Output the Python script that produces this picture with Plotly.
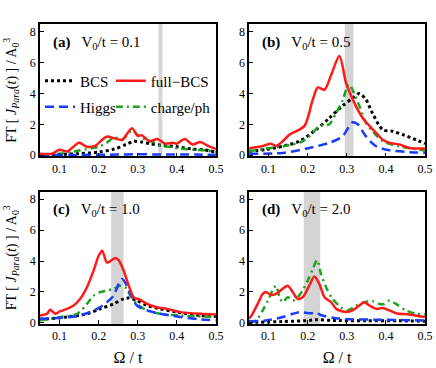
import plotly.graph_objects as go
from plotly.subplots import make_subplots

# values, per panel and series
a_bcs_x = [0.05, 0.10, 0.15, 0.20, 0.24, 0.27, 0.29, 0.31, 0.33, 0.36, 0.40, 0.44, 0.47, 0.50]
a_bcs_y = [0.05, 0.05, 0.10, 0.20, 0.40, 0.70, 0.90, 0.85, 0.75, 0.65, 0.55, 0.40, 0.35, 0.20]
a_full_x = [0.05, 0.08, 0.10, 0.12, 0.15, 0.17, 0.19, 0.22, 0.24, 0.26, 0.285, 0.30, 0.31, 0.33,
            0.35, 0.37, 0.39, 0.40, 0.42, 0.44, 0.46, 0.48, 0.50]
a_full_y = [0.10, 0.10, 0.35, 0.25, 0.80, 0.55, 0.60, 1.20, 1.10, 1.00, 1.75, 1.25, 1.30, 0.90,
            1.05, 0.75, 0.80, 0.75, 1.05, 0.70, 0.85, 0.60, 0.40]
a_higgs_x = [0.05, 0.15, 0.25, 0.30, 0.35, 0.45, 0.50]
a_higgs_y = [0.02, 0.02, 0.04, 0.06, 0.05, 0.04, 0.03]
a_charge_x = [0.05, 0.10, 0.15, 0.20, 0.22, 0.24, 0.26, 0.285, 0.30, 0.32, 0.34, 0.36, 0.38,
              0.40, 0.42, 0.45, 0.48, 0.50]
a_charge_y = [0.05, 0.10, 0.30, 0.55, 0.80, 1.15, 1.00, 1.60, 1.30, 1.00, 0.85, 0.60, 0.55,
              0.45, 0.40, 0.35, 0.30, 0.20]

b_bcs_x = [0.05, 0.093, 0.136, 0.178, 0.221, 0.255, 0.289, 0.315, 0.332, 0.349, 0.366, 0.392,
           0.417, 0.443, 0.477, 0.50]
b_bcs_y = [0.25, 0.37, 0.58, 0.90, 1.65, 2.40, 3.20, 3.70, 4.00, 3.60, 2.70, 1.65, 1.55, 1.33,
           1.00, 0.75]
b_full_x = [0.05, 0.085, 0.106, 0.119, 0.136, 0.153, 0.17, 0.192, 0.213, 0.226, 0.243, 0.26,
            0.281, 0.298, 0.307, 0.324, 0.341, 0.358, 0.375, 0.392, 0.409, 0.434, 0.46, 0.50]
b_full_y = [0.45, 0.60, 0.75, 0.60, 0.90, 1.33, 1.55, 1.90, 3.60, 4.39, 4.24, 5.20, 6.43, 4.67,
            4.10, 3.15, 2.40, 1.90, 1.45, 1.00, 0.80, 0.70, 0.47, 0.43]
b_higgs_x = [0.05, 0.136, 0.204, 0.255, 0.289, 0.306, 0.315, 0.328, 0.349, 0.375, 0.409, 0.46, 0.50]
b_higgs_y = [0.10, 0.15, 0.47, 0.80, 1.22, 1.87, 2.13, 2.00, 1.22, 0.58, 0.32, 0.20, 0.15]
b_charge_x = [0.05, 0.093, 0.136, 0.187, 0.213, 0.23, 0.255, 0.272, 0.29, 0.305, 0.332, 0.349,
              0.366, 0.392, 0.434, 0.50]
b_charge_y = [0.25, 0.43, 0.58, 0.90, 1.45, 1.90, 2.00, 2.70, 3.60, 4.60, 3.20, 2.10, 1.55,
              0.90, 0.58, 0.30]

c_bcs_x = [0.05, 0.119, 0.17, 0.204, 0.238, 0.264, 0.277, 0.298, 0.324, 0.358, 0.40, 0.46, 0.50]
c_bcs_y = [0.22, 0.37, 0.58, 0.90, 1.22, 1.55, 1.60, 1.44, 1.12, 0.90, 0.69, 0.47, 0.41]
c_full_x = [0.05, 0.068, 0.076, 0.089, 0.102, 0.119, 0.136, 0.153, 0.17, 0.187, 0.20, 0.209,
            0.221, 0.23, 0.243, 0.251, 0.264, 0.277, 0.29, 0.307, 0.324, 0.349, 0.375, 0.409,
            0.46, 0.50]
c_full_y = [0.47, 0.58, 0.84, 0.58, 0.75, 0.90, 1.12, 1.55, 2.30, 3.38, 4.34, 4.67, 3.90, 4.00,
            4.20, 4.06, 3.38, 2.40, 1.65, 1.48, 1.22, 1.00, 0.90, 0.69, 0.58, 0.54]
c_higgs_x = [0.05, 0.102, 0.153, 0.196, 0.221, 0.238, 0.251, 0.26, 0.268, 0.281, 0.298, 0.324,
             0.358, 0.409, 0.46, 0.50]
c_higgs_y = [0.26, 0.32, 0.47, 0.90, 1.33, 1.76, 2.50, 2.84, 2.60, 1.87, 1.12, 0.80, 0.58,
             0.37, 0.22, 0.15]
c_charge_x = [0.05, 0.102, 0.145, 0.17, 0.187, 0.204, 0.221, 0.238, 0.255, 0.268, 0.281, 0.298,
              0.324, 0.358, 0.409, 0.50]
c_charge_y = [0.15, 0.37, 0.58, 1.22, 1.76, 1.98, 2.09, 2.20, 2.40, 2.30, 1.76, 1.22, 0.80,
              0.58, 0.47, 0.37]

d_bcs_x = [0.05, 0.136, 0.204, 0.221, 0.264, 0.349, 0.434, 0.50]
d_bcs_y = [0.02, 0.08, 0.15, 0.20, 0.15, 0.13, 0.13, 0.10]
d_full_x = [0.05, 0.059, 0.072, 0.085, 0.093, 0.106, 0.119, 0.136, 0.149, 0.162, 0.174, 0.187,
            0.204, 0.217, 0.23, 0.243, 0.26, 0.273, 0.298, 0.315, 0.332, 0.345, 0.358, 0.375,
            0.392, 0.409, 0.426, 0.46, 0.50]
d_full_y = [0.26, 0.58, 1.22, 1.87, 2.00, 1.80, 1.87, 2.20, 2.40, 1.98, 1.55, 1.65, 2.40, 2.99,
            2.50, 1.65, 1.33, 0.90, 0.69, 0.80, 1.12, 1.33, 1.12, 0.90, 0.95, 0.80, 0.62, 0.54, 0.37]
d_higgs_x = [0.05, 0.093, 0.136, 0.162, 0.179, 0.204, 0.221, 0.238, 0.264, 0.306, 0.392, 0.50]
d_higgs_y = [0.10, 0.15, 0.37, 0.58, 0.69, 0.62, 0.62, 0.47, 0.32, 0.22, 0.20, 0.15]
d_charge_x = [0.05, 0.068, 0.085, 0.098, 0.11, 0.119, 0.128, 0.136, 0.149, 0.162, 0.174, 0.187,
              0.20, 0.213, 0.224, 0.234, 0.247, 0.264, 0.285, 0.302, 0.324, 0.345, 0.366, 0.383,
              0.396, 0.409, 0.426, 0.451, 0.477, 0.50]
d_charge_y = [0.05, 0.15, 0.80, 1.44, 2.09, 2.40, 1.65, 1.33, 1.65, 1.44, 1.65, 2.09, 2.73, 3.48,
              4.06, 3.16, 2.30, 1.55, 1.00, 0.80, 1.12, 1.33, 1.40, 1.22, 1.22, 1.44, 1.22, 0.80,
              0.58, 0.54]

panel_tags = ["(a)", "(b)", "(c)", "(d)"]
panel_v0 = ["0.1", "0.5", "1.0", "2.0"]
band_lo = [0.353, 0.295, 0.232, 0.190]
band_hi = [0.363, 0.317, 0.264, 0.232]

series_names = ["BCS", "full−BCS", "Higgs", "charge/ph"]
panels = [
    [(a_bcs_x, a_bcs_y), (a_full_x, a_full_y), (a_higgs_x, a_higgs_y), (a_charge_x, a_charge_y)],
    [(b_bcs_x, b_bcs_y), (b_full_x, b_full_y), (b_higgs_x, b_higgs_y), (b_charge_x, b_charge_y)],
    [(c_bcs_x, c_bcs_y), (c_full_x, c_full_y), (c_higgs_x, c_higgs_y), (c_charge_x, c_charge_y)],
    [(d_bcs_x, d_bcs_y), (d_full_x, d_full_y), (d_higgs_x, d_higgs_y), (d_charge_x, d_charge_y)],
]

styles = [
    dict(color="black", dash="dot", width=3),
    dict(color="#ff1a1a", dash="solid", width=2.5),
    dict(color="#1a3cff", dash="9px,5px", width=2.5),
    dict(color="#1fa31f", dash="7px,4px,2px,4px", width=2.5),
]
# one legend box per entry so the 2x2 legend grid sits where the reference has it
legend_ids = ["legend", "legend2", "legend3", "legend4"]
legend_pos = [(0.0, 0.81), (0.184, 0.81), (0.0, 0.723), (0.184, 0.723)]

FONT = "Liberation Serif, Times New Roman, serif"

fig = make_subplots(rows=2, cols=2, horizontal_spacing=0.086, vertical_spacing=0.117)

# full-BCS drawn last so it sits on top
draw_order = [0, 3, 2, 1]
for i, curves in enumerate(panels):
    r, c = i // 2 + 1, i % 2 + 1
    for k in draw_order:
        x, y = curves[k]
        fig.add_trace(go.Scatter(
            x=x, y=y, mode="lines", name=series_names[k],
            line=dict(shape="spline", smoothing=0.8, **styles[k]),
            showlegend=(i == 0),
            legend=legend_ids[k],
        ), row=r, col=c)

    xref = "x" if i == 0 else f"x{i + 1}"
    yref = "y" if i == 0 else f"y{i + 1}"
    fig.add_shape(type="rect", xref=xref, yref=f"{yref} domain",
                  x0=band_lo[i], x1=band_hi[i], y0=0, y1=1,
                  fillcolor="#d4d4d4", line_width=0, layer="below")
    fig.add_annotation(
        xref=f"{xref} domain", yref=f"{yref} domain", x=0.065, y=0.86,
        xanchor="left", yanchor="middle", showarrow=False,
        text=f"<b>{panel_tags[i]}</b>   V<sub>0</sub>/t = {panel_v0[i]}",
        font=dict(family=FONT, size=15, color="black"),
    )

fig.update_xaxes(range=[0.05, 0.5], tickvals=[0.1, 0.2, 0.3, 0.4, 0.5],
                 ticktext=["0.1", "0.2", "0.3", "0.4", "0.5"],
                 ticks="inside", ticklen=4, tickwidth=1, tickcolor="black",
                 showline=True, linecolor="black", linewidth=1.5, mirror=True,
                 showgrid=False, zeroline=False, automargin=False,
                 tickfont=dict(family=FONT, size=12, color="black"))
fig.update_yaxes(range=[-0.08, 8.5], tickvals=[0, 2, 4, 6, 8],
                 ticks="inside", ticklen=4, tickwidth=1, tickcolor="black",
                 showline=True, linecolor="black", linewidth=1.5, mirror=True,
                 showgrid=False, zeroline=False, automargin=False,
                 tickfont=dict(family=FONT, size=12, color="black"))

ytitle = "FT [ <i>J</i><sub><i>Para</i></sub>(<i>t</i>) ] / A<sub>0</sub><sup>3</sup>"
for r in (1, 2):
    fig.update_yaxes(title=dict(text=ytitle, standoff=10,
                                font=dict(family=FONT, size=14, color="black")),
                     row=r, col=1)
for c in (1, 2):
    fig.update_xaxes(title=dict(text="Ω / t", standoff=10,
                                font=dict(family=FONT, size=16, color="black")),
                     row=2, col=c)

legend_common = dict(
    orientation="h", xanchor="left", yanchor="middle",
    bgcolor="rgba(0,0,0,0)", borderwidth=0,
    font=dict(family=FONT, size=15, color="black"),
    itemwidth=30,
)
legends = {lid: dict(x=px, y=py, **legend_common) for lid, (px, py) in zip(legend_ids, legend_pos)}

fig.update_layout(
    width=436, height=368,
    margin=dict(l=40, r=11, t=24, b=44),
    paper_bgcolor="white", plot_bgcolor="white",
    font=dict(family=FONT, color="black"),
    **legends,
)

fig.write_html("out.html", config={"displayModeBar": False},
               post_script="document.body.style.margin='0';")
